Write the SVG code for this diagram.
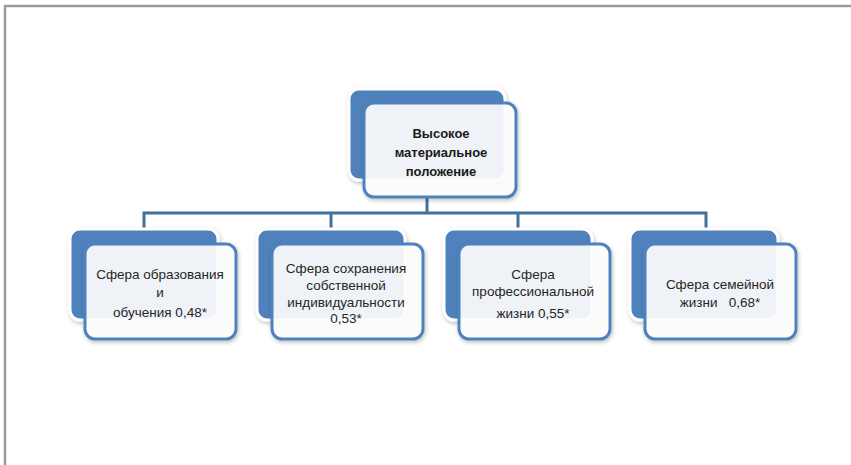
<svg xmlns="http://www.w3.org/2000/svg" width="851" height="465" viewBox="0 0 851 465">
<defs>
<filter id="sh" x="-10%" y="-10%" width="125%" height="130%">
<feGaussianBlur in="SourceAlpha" stdDeviation="2"/>
<feOffset dx="1" dy="2" result="b"/>
<feComponentTransfer><feFuncA type="linear" slope="0.25"/></feComponentTransfer>
<feMerge><feMergeNode/><feMergeNode in="SourceGraphic"/></feMerge>
</filter>
</defs>
<style>
.back{fill:#4F81BD;stroke:#ffffff;stroke-width:3;filter:url(#sh)}
.front{fill:#ffffff;fill-opacity:0.9;stroke:#4F81BD;stroke-width:3;filter:url(#sh)}
.t{font-family:"Liberation Sans",Arial,sans-serif;font-size:13.5px;fill:#262626;text-anchor:middle}
.tb{font-weight:bold;font-size:13px;fill:#1a1a1a}
.c{fill:none;stroke:#41719C;stroke-width:3}
</style>
<rect width="851" height="465" fill="#ffffff"/>
<path d="M5,465 V6 H851" fill="none" stroke="#9a9a9a" stroke-width="2.5"/>
<g id="connectors">
<path class="c" d="M427,197 V213"/>
<path class="c" d="M144,230 V213 H706 V230"/>
<path class="c" d="M331,213 V230"/>
<path class="c" d="M518,213 V230"/>
</g>
<g id="top">
<rect class="back" x="349" y="89" width="156" height="91" rx="10"/>
<rect class="front" x="364" y="103" width="152" height="94" rx="10"/>
<text class="t tb" x="441" y="138">Высокое</text>
<text class="t tb" x="441" y="157">материальное</text>
<text class="t tb" x="441" y="176">положение</text>
</g>
<g id="n1">
<rect class="back" x="70" y="229" width="148" height="91" rx="10"/>
<rect class="front" x="85" y="244" width="151" height="95" rx="10"/>
<text class="t" x="160" y="279">Сфера образования</text>
<text class="t" x="160" y="297">и</text>
<text class="t" x="160" y="317">обучения 0,48*</text>
</g>
<g id="n2">
<rect class="back" x="257" y="229" width="148" height="91" rx="10"/>
<rect class="front" x="272" y="244" width="151" height="95" rx="10"/>
<text class="t" x="346" y="273">Сфера сохранения</text>
<text class="t" x="346" y="290">собственной</text>
<text class="t" x="346" y="307">индивидуальности</text>
<text class="t" x="346" y="323">0,53*</text>
</g>
<g id="n3">
<rect class="back" x="444" y="229" width="148" height="91" rx="10"/>
<rect class="front" x="459" y="244" width="151" height="95" rx="10"/>
<text class="t" x="533" y="279">Сфера</text>
<text class="t" x="533" y="296">профессиональной</text>
<text class="t" x="533" y="318">жизни 0,55*</text>
</g>
<g id="n4">
<rect class="back" x="630" y="229" width="148" height="91" rx="10"/>
<rect class="front" x="645" y="244" width="151" height="95" rx="10"/>
<text class="t" x="720" y="289">Сфера семейной</text>
<text class="t" x="720" y="307" xml:space="preserve">жизни   0,68*</text>
</g>
</svg>
